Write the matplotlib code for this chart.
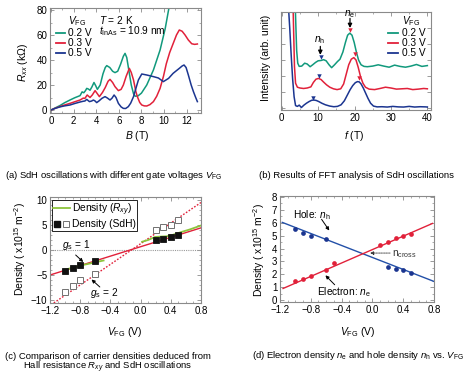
import matplotlib
matplotlib.use('Agg')
import matplotlib.pyplot as plt
from matplotlib.lines import Line2D
from matplotlib.legend_handler import HandlerTuple
from matplotlib.ticker import MultipleLocator, NullFormatter

plt.rcParams['font.family'] = ['Liberation Sans', 'DejaVu Sans']
plt.rcParams['mathtext.fontset'] = 'custom'
plt.rcParams['mathtext.rm'] = 'Liberation Sans'
plt.rcParams['mathtext.it'] = 'Liberation Sans:italic'
plt.rcParams['mathtext.bf'] = 'Liberation Sans:bold'
plt.rcParams['axes.unicode_minus'] = True

# ---------------- data ----------------
# (a) SdH oscillations
B_02 = [0, 0.4, 0.8, 1.2, 1.68, 2.1, 2.57, 2.75, 2.9, 3.05, 3.16, 3.3, 3.45, 3.62, 3.8, 3.95, 4.1, 4.35, 4.6, 4.8,
        4.93, 5.2, 5.45, 5.66, 5.9, 6.15, 6.4, 6.55, 6.7, 6.9, 7.1, 7.3, 7.45, 7.7, 8.0, 8.47, 9.06, 9.65, 10.1, 10.4, 10.6]
R_02 = [0, 1.8, 3.6, 5.8, 8, 9.8, 11.5, 14.5, 13.8, 15.5, 17.3, 16.8, 15.8, 18.5, 22, 19.5, 16.5, 20, 29, 34,
        35.5, 34, 31, 29.9, 31, 36.5, 43, 45.3, 42, 31, 20, 13, 11, 11.3, 13.5, 20, 32, 48, 65, 80, 90]
B_03 = [0, 0.4, 0.8, 1.2, 1.68, 2.1, 2.57, 2.85, 3.0, 3.2, 3.45, 3.65, 3.9, 4.1, 4.28, 4.55, 4.8, 5.05, 5.22, 5.45,
        5.66, 5.96, 6.2, 6.4, 6.65, 6.93, 7.1, 7.3, 7.5, 7.64, 7.85, 8.03, 8.25, 8.47, 8.75, 9.06, 9.35, 9.65, 9.95,
        10.2, 10.5, 10.8, 11.1, 11.35, 11.6, 11.86, 12.15, 12.45, 12.7, 12.95]
R_03 = [0, 1.5, 2.8, 4.0, 5.3, 6.6, 8, 9.5, 9.3, 12, 10, 12, 15.5, 13, 10.7, 14, 18, 23, 24.5, 22,
        18.7, 15.5, 16.5, 20, 27, 33.3, 30, 24, 15, 10.7, 6, 4, 3.3, 3.2, 4.3, 6.7, 11, 17.3, 27,
        37, 46, 53, 60, 64, 63, 60, 56, 53, 52.5, 52.8]
B_05 = [0, 0.4, 0.8, 1.2, 1.68, 2.1, 2.57, 2.85, 3.0, 3.16, 3.4, 3.6, 3.75, 3.9, 4.04, 4.25, 4.5, 4.78, 5.0, 5.22,
        5.4, 5.58, 5.75, 5.96, 6.2, 6.4, 6.6, 6.84, 7.05, 7.3, 7.5, 7.73, 8.03, 8.47, 9.06, 9.5, 9.94, 10.4, 10.8,
        11.1, 11.35, 11.6, 11.77, 11.95, 12.15, 12.4, 12.6, 12.8, 12.95]
R_05 = [0, 1.4, 2.5, 3.3, 4, 5.2, 6.4, 7.0, 7.2, 8.5, 6.7, 7.2, 8, 7.2, 5.9, 7.3, 9.3, 10.7, 9.5, 8,
        9.5, 12, 10, 5.3, 2.5, 1.3, 1.2, 2.7, 5.5, 10.7, 17, 24, 28.8, 28, 26.7, 25.6, 22.7, 25.3, 29.3,
        31.5, 33.3, 35.2, 36, 34, 28, 20, 14.7, 10, 6.7]
labels_a = ['0.2 V', '0.3 V', '0.5 V']

# (b) FFT spectra (arb. unit, offset)
f_02 = [3.7, 3.9, 4.1, 4.4, 4.8, 5.5, 6.3, 7.0, 7.8, 8.5, 9.3, 10.0, 10.8, 11.5, 12.2, 13.0, 13.7, 14.5, 15.3, 16.0,
        16.8, 17.5, 18.1, 18.7, 19.3, 19.9, 20.5, 21.1, 21.8, 22.6, 23.5, 25, 26.5, 28, 29.5, 31, 32.5, 34, 35.5,
        37, 38.5, 40]
I_02 = [6.5, 5.0, 3.6, 2.8, 2.6, 2.62, 2.8, 2.75, 2.58, 2.7, 2.85, 2.95, 2.97, 3.02, 2.95, 2.7, 2.52, 2.7, 2.9, 3.05,
        3.5, 4.1, 4.55, 4.68, 4.55, 4.1, 3.5, 3.0, 2.7, 2.6, 2.58, 2.62, 2.7, 2.62, 2.55, 2.68, 2.6, 2.55, 2.62,
        2.72, 2.6, 2.65]
f_03 = [3.1, 3.3, 3.5, 3.8, 4.3, 5.0, 6.0, 7.0, 8.0, 8.7, 9.4, 10.1, 10.8, 11.5, 12.3, 13.2, 14.2, 15.2, 16.2, 17.0,
        17.7, 18.4, 19.1, 19.8, 20.4, 21.0, 21.6, 22.3, 23.0, 24.0, 25.5, 27, 28.5, 30, 31.5, 33, 34.5, 36, 37.5,
        39, 40]
I_03 = [6.5, 4.5, 2.6, 1.55, 1.3, 1.25, 1.22, 1.25, 1.32, 1.6, 1.8, 1.85, 1.78, 1.62, 1.45, 1.3, 1.2, 1.15, 1.2, 1.5,
        2.1, 2.7, 3.05, 3.15, 3.0, 2.55, 2.0, 1.55, 1.3, 1.18, 1.15, 1.22, 1.3, 1.25, 1.18, 1.2, 1.22, 1.15, 1.18,
        1.22, 1.2]
f_05 = [1.8, 2.2, 2.6, 3.0, 3.4, 3.8, 4.3, 4.8, 5.4, 6.1, 6.8, 7.5, 8.2, 8.8, 9.5, 10.2, 11.0, 12.0, 13.2, 14.3,
        15.3, 16.3, 17.2, 18.0, 18.8, 19.5, 20.2, 20.8, 21.3, 21.8, 22.4, 23.0, 23.7, 24.4, 25.2, 26.2, 27.5, 29,
        30.5, 32, 33.5, 35, 36.5, 38, 39.5, 40]
I_05 = [6.5, 5.0, 3.3, 1.8, 0.7, 0.15, 0.1, 0.18, 0.03, 0.18, 0.3, 0.4, 0.48, 0.5, 0.47, 0.4, 0.3, 0.2, 0.12, 0.08,
        0.1, 0.2, 0.45, 0.8, 1.15, 1.4, 1.58, 1.65, 1.63, 1.5, 1.25, 0.95, 0.6, 0.3, 0.12, 0.07, 0.08, 0.06,
        0.1, 0.07, 0.06, 0.1, 0.06, 0.08, 0.07, 0.06]
fe_peak = [18.7, 20.0, 21.3]
Ie_peak = [4.9, 3.37, 1.9]
fh_peak = [10.8, 10.1, 8.6]
Ih_peak = [3.17, 2.0, 0.64]

# (c) carrier densities
Vc_sdh = [-1.0, -0.9, -0.8, -0.6, 0.2, 0.3, 0.4, 0.5]
n_gs1 = [-4.1, -3.6, -3.05, -2.1, 2.0, 2.3, 2.7, 3.0]
n_gs2 = [-8.3, -7.2, -6.0, -4.8, 4.0, 4.7, 5.1, 6.0]
Vc_rxy1 = [-1.02, -0.9, -0.8, -0.7, -0.6, -0.49]
n_rxy1 = [-4.0, -3.55, -3.1, -2.8, -2.45, -2.1]
Vc_rxy2 = [0.02, 0.1, 0.19, 0.28, 0.35, 0.41, 0.54, 0.65, 0.8]
n_rxy2 = [1.65, 2.0, 2.6, 2.7, 2.75, 2.95, 3.6, 4.1, 4.9]
Vc_fit = [-1.2, 0.8]
n_fit1 = [-5.0, 4.43]
Vc_fit2 = [-1.15, 0.8]
n_fit2 = [-10.6, 9.5]

# (d) electron and hole densities
Vd_h = [-1.0, -0.9, -0.8, -0.6, 0.2, 0.3, 0.4, 0.5]
n_h = [5.5, 5.2, 4.95, 4.75, 2.6, 2.42, 2.35, 2.1]
Vd_e = [-1.0, -0.9, -0.8, -0.6, -0.5, 0.1, 0.2, 0.3, 0.4, 0.5]
n_e = [1.48, 1.62, 1.87, 2.35, 2.86, 4.28, 4.5, 4.8, 4.98, 5.13]
Vd_fit_e = [-1.16, 0.78]
n_fit_e = [0.9, 5.95]
Vd_fit_h = [-1.17, 0.82]
n_fit_h = [6.03, 1.4]

# ---------------- figure ----------------
W, H = 466, 381
fig = plt.figure(figsize=(W / 100, H / 100), dpi=100)

GREEN = '#11997c'
RED = '#e1213a'
BLUE = '#1b3590'
SPINE = '#8a8a8a'
FS = 7
TF = 7.3   # panel text size
CF = 6.8   # caption size


def axpx(l, t, r, b):
    return fig.add_axes([l / W, 1 - b / H, (r - l) / W, (b - t) / H])


def ftext(x, y, s, **kw):
    kw.setdefault('fontsize', FS)
    kw.setdefault('va', 'center')
    return fig.text(x / W, 1 - y / H, s, **kw)


def style(ax):
    for s in ax.spines.values():
        s.set_color(SPINE)
        s.set_linewidth(0.8)
    ax.tick_params(which='both', direction='in', top=True, right=True, color=SPINE,
                   labelsize=FS, pad=2)
    ax.tick_params(which='major', length=3, width=0.6)
    ax.tick_params(which='minor', length=1.7, width=0.5)


VFG = r'$V_{\mathrm{FG}}$'

# ----- (a) -----
ax = axpx(50, 8, 201, 113)
style(ax)
cols = [GREEN, RED, BLUE]
for Bx, Rx, c in zip([B_02, B_03, B_05], [R_02, R_03, R_05], cols):
    ax.plot(Bx, Rx, color=c, lw=1.1)
ax.set_xlim(-0.09, 13.27)
ax.set_ylim(-2.4, 81.6)
ax.xaxis.set_major_locator(MultipleLocator(2))
ax.xaxis.set_minor_locator(MultipleLocator(1))
ax.yaxis.set_major_locator(MultipleLocator(20))
ax.yaxis.set_minor_locator(MultipleLocator(10))
ftext(68, 21, VFG, fontsize=TF)
for i, (lab, c) in enumerate(zip(labels_a, cols)):
    y = [32.5, 42.5, 52.5][i]
    fig.add_artist(Line2D([56 / W, 65 / W], [1 - y / H, 1 - y / H], color=c, lw=1.3))
    ftext(68, y, lab, fontsize=TF)
ftext(99, 20, r'$T$ = 2 K', fontsize=TF)
ftext(99, 31.5, r'$t_{\mathrm{InAs}}$ = 10.9 nm', fontsize=TF)
ftext(23, 62, r'$R_{xx}$ (k$\Omega$)', rotation=90, ha='center', fontsize=7.5)
ftext(137, 136, r'$B$ (T)', ha='center', fontsize=7.5)
ftext(5, 176, r'(a) SdH oscillations with different gate voltages ' + VFG, ha='left', fontsize=CF)

# ----- (b) -----
ax = axpx(281, 12, 431, 110)
style(ax)
for fx, Ix, c in zip([f_02, f_03, f_05], [I_02, I_03, I_05], cols):
    ax.plot(fx, Ix, color=c, lw=1.1)
ax.plot(fe_peak, Ie_peak, 'v', color=RED, ms=3.2, mec='none')
ax.plot(fh_peak, Ih_peak, 'v', color=BLUE, ms=3.2, mec='none')
ax.set_xlim(-0.2, 41.0)
ax.set_ylim(-0.125, 6.0)
ax.xaxis.set_major_locator(MultipleLocator(10))
ax.xaxis.set_minor_locator(MultipleLocator(5))
ax.yaxis.set_major_locator(MultipleLocator(1))
ax.yaxis.set_major_formatter(NullFormatter())
ax.annotate('', xy=(18.75, 5.0), xytext=(18.75, 5.6),
            arrowprops=dict(arrowstyle='-|>', color='k', lw=0.9, mutation_scale=6, shrinkA=0, shrinkB=0))
ax.annotate('', xy=(10.6, 3.32), xytext=(10.6, 3.85),
            arrowprops=dict(arrowstyle='-|>', color='k', lw=0.9, mutation_scale=6, shrinkA=0, shrinkB=0))
ftext(349.5, 14.5, r'$n_{\mathrm{e}}$', ha='center', fontsize=TF)
ftext(320, 40, r'$n_{\mathrm{h}}$', ha='center', fontsize=TF)
ftext(402, 21, VFG, fontsize=TF)
for i, (lab, c) in enumerate(zip(labels_a, cols)):
    y = [33.3, 43.3, 53.3][i]
    fig.add_artist(Line2D([388 / W, 398 / W], [1 - y / H, 1 - y / H], color=c, lw=1.3))
    ftext(401.5, y, lab, fontsize=TF)
ftext(266, 58, 'Intensity (arb. unit)', rotation=90, ha='center', fontsize=7.5)
ftext(354, 136, r'$f$ (T)', ha='center', fontsize=7.5)
ftext(259, 176, '(b) Results of FFT analysis of SdH oscillations', ha='left', fontsize=CF)

# ----- (c) -----
ax = axpx(50, 197, 201, 303)
style(ax)
ax.axhline(0, color='#999999', lw=0.8, ls=(0, (1, 1)))
ax.plot(Vc_fit2, n_fit2, color=RED, lw=1.0, ls=(0, (1.2, 1.2)))
ax.plot(Vc_fit, n_fit1, color=RED, lw=1.0)
lg, = ax.plot(Vc_rxy1, n_rxy1, color='#8cc43c', lw=1.3)
ax.plot(Vc_rxy2, n_rxy2, color='#8cc43c', lw=1.3)
ax.plot(Vc_sdh, n_gs2, 's', ms=3.8, mfc='white', mec='#707070', mew=0.7)
ax.plot(Vc_sdh, n_gs1, 's', ms=3.8, mfc='#111111', mec='#111111', mew=0.6)
ax.set_xlim(-1.2, 0.8)
ax.set_ylim(-10.6, 10.6)
ax.xaxis.set_minor_locator(MultipleLocator(0.1))
ax.yaxis.set_major_locator(MultipleLocator(5))
ax.yaxis.set_minor_locator(MultipleLocator(1))
ax.set_xticks([-1.2, -0.8, -0.4, 0.0, 0.4, 0.8])
ax.set_xticklabels(['\u22121.2', '\u22120.8', '\u22120.4', '0.0', '0.4', '0.8'])
hf = Line2D([], [], ls='none', marker='s', ms=4.2, mfc='#111111', mec='#111111')
ho = Line2D([], [], ls='none', marker='s', ms=4.2, mfc='white', mec='#707070', mew=0.7)
leg = ax.legend([lg, (hf, ho)], [r'Density ($R_{xy}$)', 'Density (SdH)'],
                handler_map={tuple: HandlerTuple(ndivide=None, pad=0.3)},
                loc='upper left', bbox_to_anchor=(0.005, 0.985), fontsize=7.4, frameon=True,
                fancybox=False, edgecolor='black', framealpha=1, borderpad=0.15, labelspacing=0.15,
                handlelength=1.6, handletextpad=0.2, borderaxespad=0.1)
leg.get_frame().set_linewidth(0.6)
arr = dict(arrowstyle='-|>', color='k', lw=0.7, mutation_scale=5, shrinkA=0, shrinkB=0)
ax.annotate('', xy=(-0.76, -2.4), xytext=(-0.86, -1.0), arrowprops=arr)
ax.annotate('', xy=(-0.65, -5.9), xytext=(-0.54, -7.4), arrowprops=arr)
ax.text(-1.04, 1.1, r'$g_{\mathrm{s}}$ = 1', fontsize=TF, va='center', ha='left')
ax.text(-0.67, -8.6, r'$g_{\mathrm{s}}$ = 2', fontsize=TF, va='center', ha='left')
ftext(20, 249, r'Density ( x10$^{15}$ m$^{-2}$)', rotation=90, ha='center', fontsize=7.5)
ftext(125, 332, VFG + ' (V)', ha='center', fontsize=7.5)
ftext(5, 356.5, '(c) Comparison of carrier densities deduced from', ha='left', fontsize=CF)
ftext(23, 367.5, r'Hall resistance $R_{xy}$ and SdH oscillations', ha='left', fontsize=CF)

# ----- (d) -----
ax = axpx(280, 196, 434, 302)
style(ax)
ax.plot(Vd_fit_h, n_fit_h, color='#2350a8', lw=1.0)
ax.plot(Vd_fit_e, n_fit_e, color=RED, lw=1.0)
ax.plot(Vd_h, n_h, 'o', ms=3.4, color=BLUE, mec='none')
ax.plot(Vd_e, n_e, 'o', ms=3.4, color=RED, mec='none')
ax.set_xlim(-1.2, 0.8)
ax.set_ylim(-0.15, 8.08)
ax.set_xticks([-1.2, -0.8, -0.4, 0.0, 0.4, 0.8])
ax.set_xticklabels(['\u22121.2', '\u22120.8', '\u22120.4', '0.0', '0.4', '0.8'])
ax.xaxis.set_minor_locator(MultipleLocator(0.1))
ax.yaxis.set_major_locator(MultipleLocator(1))
ax.yaxis.set_minor_locator(MultipleLocator(0.5))
ax.annotate('', xy=(-0.56, 5.4), xytext=(-0.66, 6.27), arrowprops=arr)
ax.annotate('', xy=(-0.61, 1.92), xytext=(-0.49, 1.19), arrowprops=arr)
ax.annotate('', xy=(-0.03, 3.65), xytext=(0.23, 3.65),
            arrowprops=dict(arrowstyle='-|>', color='#333333', lw=0.6, ls=(0, (1, 1)),
                            mutation_scale=5, shrinkA=0, shrinkB=0))
ax.text(-1.03, 6.6, r'Hole: $n_{\mathrm{h}}$', fontsize=TF, va='center', ha='left')
ax.text(-0.72, 0.62, r'Electron: $n_{\mathrm{e}}$', fontsize=TF, va='center', ha='left')
ax.text(0.26, 3.55, r'n$_{\mathrm{cross}}$', fontsize=TF, va='center', ha='left', color='#333333')
ftext(259, 250, r'Density ( x10$^{15}$ m$^{-2}$)', rotation=90, ha='center', fontsize=7.5)
ftext(358, 332, VFG + ' (V)', ha='center', fontsize=7.5)
ftext(252, 356, r'(d) Electron density $n_{\mathrm{e}}$ and hole density $n_{\mathrm{h}}$ vs. ' + VFG,
      ha='left', fontsize=CF)

fig.savefig('out.png', dpi=100)
